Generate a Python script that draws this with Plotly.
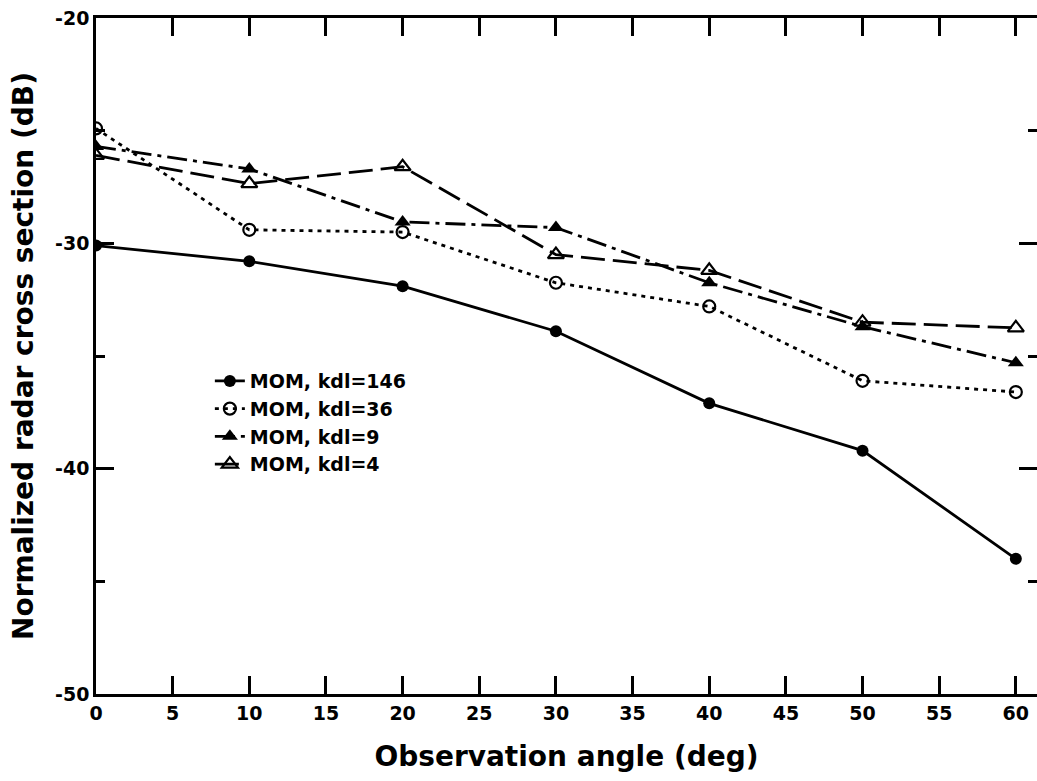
import plotly.graph_objects as go

# Observation angles (deg)
angles = [0, 10, 20, 30, 40, 50, 60]

# Normalized RCS (dB) for each MoM discretization
rcs_kdl146 = [-30.1, -30.8, -31.9, -33.9, -37.1, -39.2, -44.0]
rcs_kdl36 = [-24.9, -29.4, -29.5, -31.75, -32.8, -36.1, -36.6]
rcs_kdl9 = [-25.7, -26.7, -29.05, -29.3, -31.75, -33.7, -35.3]
rcs_kdl4 = [-26.1, -27.35, -26.6, -30.5, -31.2, -33.5, -33.75]

names = ["MOM, kdl=146", "MOM, kdl=36", "MOM, kdl=9", "MOM, kdl=4"]

x_ticks = [0, 5, 10, 15, 20, 25, 30, 35, 40, 45, 50, 55, 60]
y_ticks = [-50, -40, -30, -20]
y_minor_ticks = [-45, -35, -25]

FONT = "DejaVu Sans, Liberation Sans, Arial, sans-serif"

fig = go.Figure()

styles = [
    (rcs_kdl146, dict(dash="solid", width=2.8), dict(symbol="circle", size=12, color="black")),
    (rcs_kdl36, dict(dash="4px,5px", width=2.8),
     dict(symbol="circle-open", size=12, color="black", line=dict(width=2.2, color="black"))),
    (rcs_kdl9, dict(dash="20px,6px,4px,6px", width=2.8),
     dict(symbol="triangle-up", size=14, color="black")),
    (rcs_kdl4, dict(dash="24px,8px", width=2.8),
     dict(symbol="triangle-up-open", size=14, color="black", line=dict(width=2.2, color="black"))),
]

for name, (vals, line, marker) in zip(names, styles):
    fig.add_trace(go.Scatter(
        x=angles, y=vals, name=name, mode="lines+markers",
        line=dict(color="black", **line), marker=marker,
    ))

axis_common = dict(
    ticks="inside", ticklen=18, tickwidth=2.5, tickcolor="black",
    showline=True, linecolor="black", linewidth=2.5, mirror="ticks",
    showgrid=False, zeroline=False,
    tickfont=dict(family=FONT, size=19, color="black", weight="bold"),
)

fig.update_xaxes(
    range=[0, 61.38], tickvals=x_ticks, ticktext=[str(v) for v in x_ticks],
    title=dict(text="Observation angle (deg)", standoff=24,
               font=dict(family=FONT, size=28, color="black", weight="bold")),
    **axis_common,
)
fig.update_yaxes(
    range=[-50, -20], tickvals=y_ticks, ticktext=[str(v) for v in y_ticks],
    minor=dict(tickvals=y_minor_ticks, ticks="inside", ticklen=9,
               tickwidth=2.5, tickcolor="black", showgrid=False),
    title=dict(text="Normalized radar cross section (dB)", standoff=14,
               font=dict(family=FONT, size=28, color="black", weight="bold")),
    **axis_common,
)

fig.update_layout(
    template="none",
    width=1037, height=781,
    margin=dict(l=96, r=0, t=18, b=87),
    paper_bgcolor="white", plot_bgcolor="white",
    font=dict(family=FONT, color="black", weight="bold"),
    showlegend=True,
    legend=dict(
        x=0.121, y=0.491, xanchor="left", yanchor="top",
        bgcolor="rgba(0,0,0,0)", borderwidth=0,
        font=dict(family=FONT, size=19, color="black", weight="bold"),
        tracegroupgap=0,
    ),
)

fig.write_html("out.html")
